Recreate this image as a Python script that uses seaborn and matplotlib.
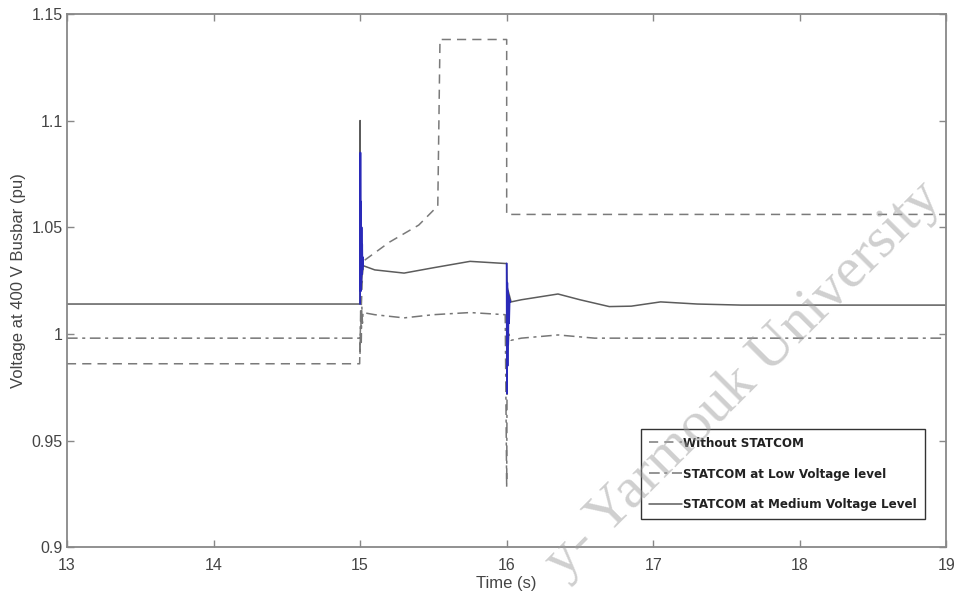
import numpy as np
import pandas as pd
import matplotlib
matplotlib.use("Agg")
import matplotlib.pyplot as plt
import seaborn as sns

# data (time in s, voltage in pu)
t_without = [13.0, 14.997, 15.0, 15.02, 15.2, 15.4, 15.53, 15.545, 16.0, 16.0, 19.0]
v_without = [0.986, 0.986, 0.998, 1.034, 1.043, 1.051, 1.060, 1.138, 1.138, 1.056, 1.056]

t_low = [13.0, 14.998, 15.0, 15.004, 15.008, 15.012, 15.016, 15.02, 15.1, 15.3,
         15.5, 15.75, 15.99, 16.0, 16.004, 16.008, 16.014, 16.03, 16.1, 16.35,
         16.6, 17.0, 19.0]
v_low = [0.998, 0.998, 0.990, 1.012, 0.996, 1.013, 1.005, 1.010, 1.009, 1.0075,
         1.009, 1.010, 1.009, 0.928, 1.003, 0.992, 1.000, 0.997, 0.998, 0.9995,
         0.998, 0.998, 0.998]

t_med = [13.0, 14.999, 15.0, 15.003, 15.02, 15.1, 15.3, 15.5, 15.75, 15.99,
         16.0, 16.003, 16.03, 16.1, 16.35, 16.5, 16.7, 16.85, 17.05, 17.3, 17.6, 19.0]
v_med = [1.014, 1.014, 1.100, 1.020, 1.032, 1.030, 1.0285, 1.031, 1.034, 1.033,
         1.033, 1.022, 1.015, 1.016, 1.0187, 1.016, 1.0128, 1.013, 1.015, 1.014, 1.0135, 1.0135]

# fast transients at the switching instants (blue)
t_osc1 = [15.0, 15.002, 15.004, 15.006, 15.008, 15.010, 15.012, 15.014, 15.016, 15.018, 15.020]
v_osc1 = [1.014, 1.085, 1.020, 1.062, 1.024, 1.050, 1.028, 1.042, 1.030, 1.036, 1.032]
t_osc2 = [16.0, 16.002, 16.004, 16.006, 16.008, 16.010, 16.013, 16.016, 16.020, 16.025]
v_osc2 = [1.033, 0.972, 1.024, 0.985, 1.020, 0.995, 1.018, 1.005, 1.016, 1.015]

x_ticks = [13, 14, 15, 16, 17, 18, 19]
y_ticks = [0.9, 0.95, 1.0, 1.05, 1.1, 1.15]
y_labels = ["0.9", "0.95", "1", "1.05", "1.1", "1.15"]

sns.set_style("white")
plt.rcParams["font.family"] = ["Liberation Sans", "DejaVu Sans"]

fig = plt.figure(figsize=(9.56, 6.04), dpi=100)
ax = fig.add_axes([0.070, 0.094, 0.920, 0.883])

df_w = pd.DataFrame({"t": t_without, "v": v_without})
df_l = pd.DataFrame({"t": t_low, "v": v_low})
df_m = pd.DataFrame({"t": t_med, "v": v_med})

sns.lineplot(data=df_w, x="t", y="v", sort=False, estimator=None, ax=ax,
             color="#7a7a7a", lw=1.1, linestyle=(0, (6, 4)),
             label="Without STATCOM")
sns.lineplot(data=df_l, x="t", y="v", sort=False, estimator=None, ax=ax,
             color="#767676", lw=1.1, linestyle=(0, (7, 3, 2, 3)),
             label="STATCOM at Low Voltage level")
sns.lineplot(data=df_m, x="t", y="v", sort=False, estimator=None, ax=ax,
             color="#5c5c5c", lw=1.1, label="STATCOM at Medium Voltage Level")
ax.plot(t_osc1, v_osc1, color="#2a2ab8", lw=1.3)
ax.plot(t_osc2, v_osc2, color="#2a2ab8", lw=1.3)

ax.set_xlim(13, 19)
ax.set_ylim(0.9, 1.15)
ax.set_xticks(x_ticks)
ax.set_xticklabels([str(x) for x in x_ticks])
ax.set_yticks(y_ticks)
ax.set_yticklabels(y_labels)
ax.tick_params(direction="in", length=5, width=1, color="#888888",
               labelsize=11.5, labelcolor="#444444", top=True, right=True,
               bottom=True, left=True, pad=3)
ax.tick_params(axis="x", pad=8)
for s in ax.spines.values():
    s.set_color("#888888")
    s.set_linewidth(1.3)

ax.set_xlabel("Time (s)", fontsize=12, color="#444444", labelpad=2)
ax.set_ylabel("Voltage at 400 V Busbar (pu)", fontsize=12, color="#444444", labelpad=4)

leg = ax.legend(loc="lower right", bbox_to_anchor=(0.983, 0.04), frameon=True,
                fancybox=False, edgecolor="black", handlelength=2.5,
                handletextpad=0.1, labelspacing=1.35, borderpad=0.6,
                prop={"family": ["DejaVu Sans", "Liberation Sans"],
                      "stretch": "condensed", "weight": "bold", "size": 9.5})
leg.get_frame().set_linewidth(1.0)
for txt in leg.get_texts():
    txt.set_color("#222222")

# faint diagonal library watermark
fig.text(0.778, 0.372, "y- Yarmouk University", rotation=45, fontsize=42,
         family=["Liberation Serif", "DejaVu Serif"], color="#a0a0a0", alpha=0.5,
         ha="center", va="center", zorder=10)

fig.savefig("out.png", dpi=100)
